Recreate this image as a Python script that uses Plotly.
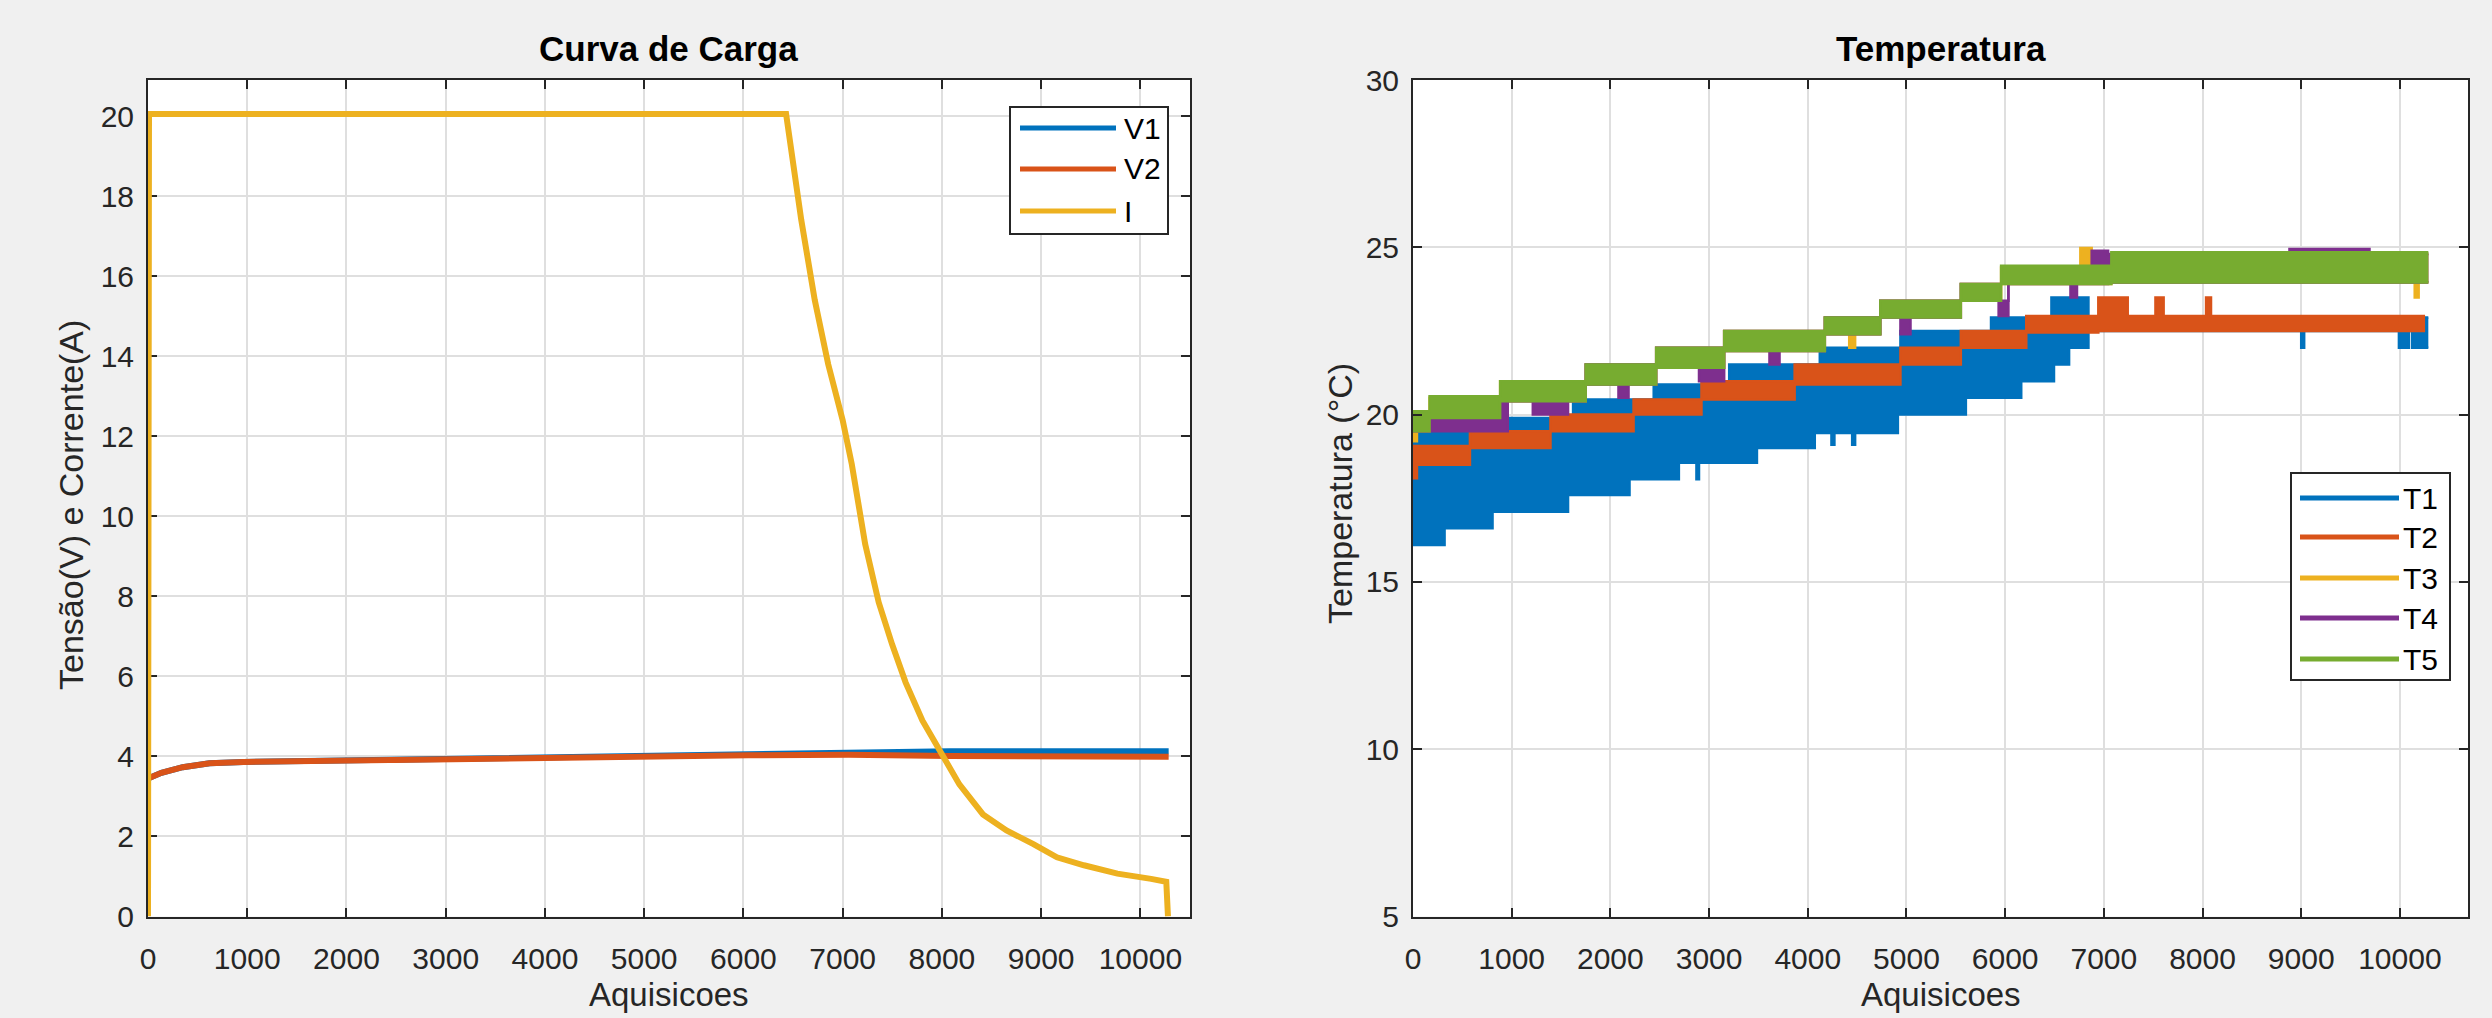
import plotly.graph_objects as go

W, H = 2492, 1018
FONT = "Liberation Sans, Arial, Helvetica, sans-serif"
AX = "#262626"
GRID = "#DFDFDF"
C_BLUE, C_ORANGE, C_YELLOW, C_PURPLE, C_GREEN = "#0072BD", "#D95319", "#EDB120", "#7E2F8E", "#77AC30"

# ---------------- data : Curva de Carga ----------------
I_x = [0, 10, 6430, 6481, 6583, 6719, 6854, 7000, 7092, 7227, 7363, 7498, 7634, 7803,
       8007, 8176, 8414, 8651, 8922, 9159, 9431, 9769, 10108, 10261, 10278]
I_y = [0, 20.05, 20.05, 19.1, 17.4, 15.4, 13.8, 12.4, 11.3, 9.3, 7.85, 6.8, 5.85, 4.9,
       4.03, 3.3, 2.55, 2.15, 1.81, 1.48, 1.28, 1.07, 0.94, 0.87, 0]

V_x = [0, 135, 350, 620, 960, 1980, 3000, 4010, 5030, 6050, 7060, 8080, 10285]
V1_y = [3.45, 3.59, 3.73, 3.83, 3.86, 3.90, 3.93, 3.97, 4.00, 4.04, 4.10, 4.13, 4.13]
V2_y = [3.45, 3.59, 3.73, 3.83, 3.86, 3.90, 3.93, 3.97, 4.00, 4.03, 4.04, 4.01, 3.99]

# ---------------- data : Temperatura (step envelopes lo/hi per segment) ----------------
T1_x = [0, 320, 806, 960, 1571, 1622, 2194, 2439, 2694, 2872, 2898, 3204, 3485, 4071, 4122,
        4240, 4270, 4450, 4480, 4913, 4939, 5602, 5857, 6163, 6469, 6495, 6648, 6844, 9000,
        9030, 9990, 10090, 10123, 10288]
T1_lo = [16.1, 16.6, 17.1, 17.1, 17.6, 17.6, 18.07, 18.07, 18.56, 18.07, 18.56, 18.56, 19.0,
         19.45, 19.45, 19.1, 19.45, 19.1, 19.45, 20.0, 20.0, 20.5, 20.5, 21.0, 21.0, 21.5,
         22.0, 22.5, 22.0, 22.5, 22.0, 22.5, 22.0]
T1_hi = [19.5, 19.5, 19.5, 19.9, 19.9, 20.45, 20.45, 20.9, 20.9, 20.9, 20.9, 21.5, 21.5, 21.5,
         22.0, 22.0, 22.0, 22.0, 22.0, 22.0, 22.5, 22.5, 22.9, 22.9, 23.5, 23.5, 23.5, 22.9,
         22.9, 22.9, 22.9, 22.9, 22.9]

T2_x = [0, 40, 577, 1393, 2235, 2923, 3867, 4939, 5551, 6214, 6944, 7242, 7523, 7606, 8036,
        8086, 10255]
T2_lo = [18.1, 18.5, 19.0, 19.5, 20.0, 20.45, 20.9, 21.5, 22.0, 22.45, 22.5, 22.5, 22.5, 22.5,
         22.5, 22.5]
T2_hi = [19.06, 19.06, 19.5, 20.0, 20.45, 21.0, 21.5, 22.0, 22.5, 22.95, 23.5, 22.95, 23.5,
         22.95, 23.5, 22.95]

T3_x = [0, 40, 168, 883, 1750, 2464, 3153, 4173, 4420, 4480, 4735, 5551, 5959, 6762, 6877,
        7076, 10150, 10190, 10288]
T3_lo = [19.2, 19.5, 19.9, 20.4, 20.9, 21.4, 21.9, 22.4, 22.0, 22.4, 22.9, 23.4, 23.9, 23.9,
         23.9, 23.95, 23.5, 23.95]
T3_hi = [20.0, 20.1, 20.5, 21.0, 21.5, 22.0, 22.5, 22.9, 22.9, 22.9, 23.4, 23.9, 24.4, 24.98,
         24.45, 24.8, 24.8, 24.8]

T4_x = [0, 245, 960, 1214, 1571, 1750, 2082, 2184, 2464, 2898, 3153, 3612, 3714, 4173, 4735,
        4939, 5041, 5551, 5934, 6033, 6662, 6728, 6877, 7043, 8881, 9692, 10288]
T4_lo = [19.5, 19.5, 20.4, 20.0, 20.4, 20.9, 20.5, 20.9, 21.4, 21.0, 21.9, 21.5, 21.9, 22.4,
         22.9, 22.4, 22.9, 23.4, 22.95, 23.9, 23.5, 23.9, 23.9, 23.95, 23.95, 23.95]
T4_hi = [20.0, 20.5, 21.0, 21.0, 21.0, 21.5, 21.5, 21.5, 22.0, 22.0, 22.5, 22.5, 22.5, 22.9,
         23.4, 23.4, 23.4, 23.9, 23.4, 24.4, 24.4, 24.4, 24.9, 24.8, 24.95, 24.8]

T5_x = [0, 168, 883, 1750, 2464, 3153, 4173, 4735, 5551, 5959, 7076, 10288]
T5_lo = [19.5, 19.9, 20.4, 20.9, 21.4, 21.9, 22.4, 22.9, 23.4, 23.9, 23.95]
T5_hi = [20.1, 20.55, 21.0, 21.5, 22.0, 22.5, 22.9, 23.4, 23.9, 24.45, 24.85]

X_TICKS = [0, 1000, 2000, 3000, 4000, 5000, 6000, 7000, 8000, 9000, 10000]
X_TICKTEXT = ["0", "1000", "2000", "3000", "4000", "5000", "6000", "7000", "8000", "9000", "10000"]
Y1_TICKS = [0, 2, 4, 6, 8, 10, 12, 14, 16, 18, 20]
Y2_TICKS = [5, 10, 15, 20, 25, 30]

# ---------------- geometry (pixels) ----------------
L_X0, L_X1 = 148, 1190
R_X0, R_X1 = 1413, 2468
P_TOP, P_BOT = 80, 916.5


def px(x):
    return x / W


def py(y):
    return 1 - y / H


fig = go.Figure()

# left plot
fig.add_trace(go.Scatter(x=V_x, y=V1_y, mode="lines", name="V1",
                         line=dict(color=C_BLUE, width=6), xaxis="x", yaxis="y"))
fig.add_trace(go.Scatter(x=V_x, y=V2_y, mode="lines", name="V2",
                         line=dict(color=C_ORANGE, width=6), xaxis="x", yaxis="y"))
fig.add_trace(go.Scatter(x=I_x, y=I_y, mode="lines", name="I",
                         line=dict(color=C_YELLOW, width=6), xaxis="x", yaxis="y"))


def band(xs, lo, hi, color, name):
    fig.add_trace(go.Scatter(x=xs, y=list(hi) + hi[-1:], mode="lines", name=name,
                             line=dict(color=color, width=2.5, shape="hv"),
                             xaxis="x2", yaxis="y2", hoverinfo="skip"))
    fig.add_trace(go.Scatter(x=xs, y=list(lo) + lo[-1:], mode="lines", name=name,
                             line=dict(color=color, width=2.5, shape="hv"),
                             fill="tonexty", fillcolor=color,
                             xaxis="x2", yaxis="y2", hoverinfo="skip"))


band(T1_x, T1_lo, T1_hi, C_BLUE, "T1")
band(T2_x, T2_lo, T2_hi, C_ORANGE, "T2")
band(T3_x, T3_lo, T3_hi, C_YELLOW, "T3")
band(T4_x, T4_lo, T4_hi, C_PURPLE, "T4")
band(T5_x, T5_lo, T5_hi, C_GREEN, "T5")

axis_common = dict(
    showgrid=True, gridcolor=GRID, gridwidth=1.5, zeroline=False, automargin=False,
    ticks="inside", ticklen=9, tickwidth=2, tickcolor=AX,
    showline=True, linecolor=AX, linewidth=2, mirror="ticks",
    tickfont=dict(family=FONT, size=30, color=AX),
)

fig.update_layout(
    width=W, height=H, autosize=False,
    margin=dict(l=0, r=0, t=0, b=0, pad=0, autoexpand=False),
    paper_bgcolor="#F0F0F0", plot_bgcolor="#FFFFFF",
    showlegend=False,
    font=dict(family=FONT, color=AX),
    xaxis=dict(domain=[px(L_X0), px(L_X1)], range=[0, 10500], tickvals=X_TICKS, ticktext=X_TICKTEXT,
               anchor="y", layer="below traces", ticklabelstandoff=14, **axis_common),
    yaxis=dict(domain=[py(P_BOT), py(P_TOP)], range=[0, 20.9], tickvals=Y1_TICKS,
               anchor="x", layer="below traces", ticklabelstandoff=6, **axis_common),
    xaxis2=dict(domain=[px(R_X0), px(R_X1)], range=[0, 10690], tickvals=X_TICKS, ticktext=X_TICKTEXT,
                anchor="y2", ticklabelstandoff=14, **axis_common),
    yaxis2=dict(domain=[py(P_BOT), py(P_TOP)], range=[5, 30], tickvals=Y2_TICKS,
                anchor="x2", ticklabelstandoff=6, **axis_common),
)

ann = []
shapes = []


def text(x, y, s, size, bold=False, angle=0, color=AX, xanchor="center"):
    ann.append(dict(x=px(x), y=py(y), xref="paper", yref="paper", text=("<b>%s</b>" % s) if bold else s,
                    showarrow=False, textangle=angle, xanchor=xanchor, yanchor="middle",
                    font=dict(family=FONT, size=size, color=color)))


text((L_X0 + L_X1) / 2, 49, "Curva de Carga", 35, bold=True, color="#000000")
text((R_X0 + R_X1) / 2, 49, "Temperatura", 35, bold=True, color="#000000")
text((L_X0 + L_X1) / 2, 994, "Aquisicoes", 33)
text((R_X0 + R_X1) / 2, 994, "Aquisicoes", 33)
text(71, 505, "Tensão(V) e Corrente(A)", 34, angle=-90)
text(1340, 494, "Temperatura (°C)", 34, angle=-90)


def legend(box, entries, line_x0, line_x1, text_x):
    x0, y0, x1, y1 = box
    shapes.append(dict(type="rect", xref="paper", yref="paper", x0=px(x0), x1=px(x1),
                       y0=py(y1), y1=py(y0), line=dict(color=AX, width=2), fillcolor="#FFFFFF"))
    for label, color, yy in entries:
        shapes.append(dict(type="line", xref="paper", yref="paper", x0=px(line_x0), x1=px(line_x1),
                           y0=py(yy), y1=py(yy), line=dict(color=color, width=5)))
        text(text_x, yy, label, 30, xanchor="left", color="#000000")


legend((1010, 107, 1168, 234), [("V1", C_BLUE, 128), ("V2", C_ORANGE, 169), ("I", C_YELLOW, 211)],
       1020, 1116, 1122)
legend((2291, 473, 2450, 680), [("T1", C_BLUE, 498), ("T2", C_ORANGE, 537), ("T3", C_YELLOW, 578),
                                ("T4", C_PURPLE, 618), ("T5", C_GREEN, 659)],
       2300, 2399, 2401)

fig.update_layout(annotations=ann, shapes=shapes)

fig.write_html("out.html", config={"displayModeBar": False},
               post_script="document.body.style.margin='0';document.body.style.overflow='hidden';")
